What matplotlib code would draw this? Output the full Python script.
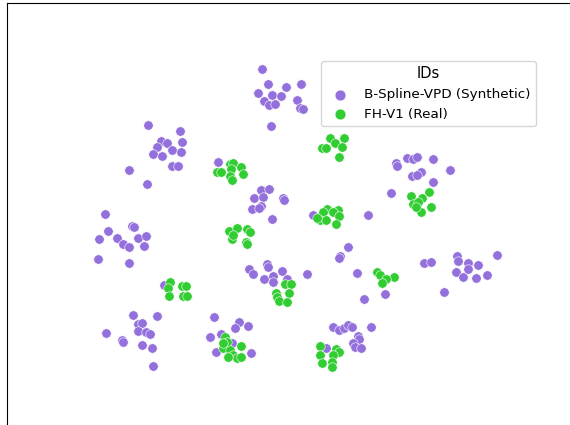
import numpy as np
import matplotlib
matplotlib.use('Agg')
import matplotlib.pyplot as plt

# embedding coordinates (y grows downward)
syn_x = [262, 268, 286, 301, 258, 272, 281, 297, 264, 269, 275, 300, 303, 271,
         148, 180, 161, 167, 182, 157, 172, 181, 153, 162, 172, 178, 129, 147,
         218,
         261, 269, 254, 263, 283, 284, 261, 252, 259, 272,
         313, 368,
         396, 397, 407, 413, 417, 433, 450, 421, 412, 417, 433, 391,
         105, 132, 134, 108, 99, 117, 138, 146, 123, 129, 144, 98, 129,
         424, 431, 457, 458, 468, 478, 497, 468, 456, 463, 476, 487, 444,
         348, 340, 339, 357, 307, 364, 385,
         249, 253, 267, 268, 264, 273, 273, 282, 287,
         164,
         133, 157, 138, 142, 138, 146, 150, 106, 122, 123, 142, 152, 153,
         214, 239, 248, 235, 210, 216, 251, 221, 232,
         333, 339, 344, 348, 352, 371, 358, 359, 353, 355, 361, 326]
syn_y = [69, 84, 87, 84, 93, 95, 96, 100, 101, 105, 104, 108, 109, 126,
         125, 131, 141, 143, 142, 147, 150, 152, 154, 156, 166, 166, 170, 184,
         162,
         190, 189, 198, 197, 198, 200, 206, 209, 208, 219,
         215, 215,
         163, 166, 158, 159, 157, 159, 170, 172, 176, 175, 182, 193,
         214, 226, 227, 231, 239, 238, 238, 236, 244, 247, 246, 259, 263,
         263, 262, 256, 261, 263, 265, 255, 269, 272, 277, 278, 275, 292,
         247, 256, 258, 273, 274, 299, 294,
         269, 274, 264, 267, 279, 276, 282, 271, 279,
         285,
         315, 316, 324, 323, 331, 332, 334, 333, 340, 342, 345, 348, 366,
         317, 322, 326, 328, 337, 352, 353, 334, 343,
         327, 330, 328, 325, 327, 327, 336, 339, 343, 347, 348, 348]

real_x = [330, 344, 335, 342, 322, 326, 339,
          230, 233, 241, 217, 221, 231, 243, 230, 232,
          319, 327, 338, 323, 333, 339, 320, 326, 336, 317,
          411, 429, 422, 413, 418, 431, 421, 416,
          229, 237, 247, 250, 232, 246, 247, 233,
          377, 380, 394, 386, 382,
          285, 291, 289, 276, 277, 279, 287,
          170, 168, 169, 182, 186, 183, 187,
          225, 227, 223, 230, 241, 233, 237, 241, 228, 223,
          320, 320, 322, 336, 339, 333, 332, 332]
real_y = [138, 138, 143, 147, 148, 148, 157,
          164, 163, 167, 172, 172, 169, 174, 176, 180,
          217, 209, 210, 212, 212, 216, 220, 220, 224, 218,
          196, 192, 198, 204, 202, 207, 212, 207,
          231, 228, 229, 232, 239, 242, 244, 235,
          272, 275, 277, 279, 283,
          284, 284, 293, 293, 297, 301, 302,
          282, 288, 296, 286, 286, 296, 296,
          337, 342, 348, 350, 346, 355, 358, 357, 357, 343,
          346, 355, 363, 349, 352, 355, 362, 367]

labels = ['B-Spline-VPD (Synthetic)', 'FH-V1 (Real)']
colors = ['mediumpurple', 'limegreen']

fig = plt.figure(figsize=(5.7, 4.25), dpi=100)
# axes runs off the right and bottom edge of the picture
ax = fig.add_axes([7.3/570, -0.2, 1.2, 1.192])

ax.scatter(syn_x, syn_y, s=46, c=colors[0], edgecolors='white', linewidths=0.4, label=labels[0])
ax.scatter(real_x, real_y, s=46, c=colors[1], edgecolors='white', linewidths=0.4, label=labels[1])

ax.set_xlim(7.3, 691.3)
ax.set_ylim(510, 3.3)
ax.set_xticks([])
ax.set_yticks([])

ax.legend(title='IDs', loc='upper left', bbox_to_anchor=(321/570, 1 - 61/425),
          bbox_transform=fig.transFigure, borderaxespad=0, markerscale=1.15,
          fontsize=9.7, title_fontsize=10.5)

fig.savefig('out.png', dpi=100)
